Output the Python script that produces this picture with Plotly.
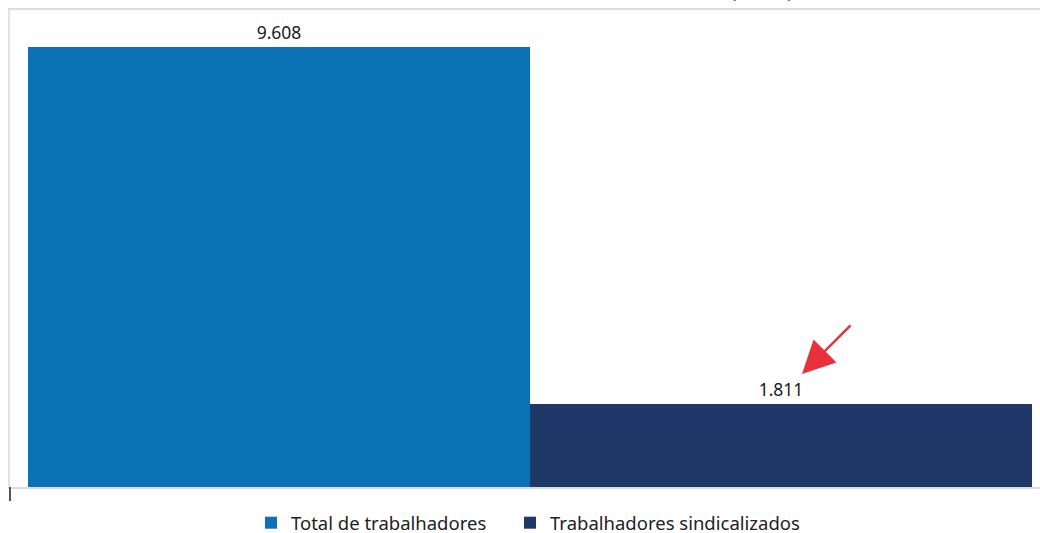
import plotly.graph_objects as go

# Trabalhadores (mil)
categorias = ["Total de trabalhadores", "Trabalhadores sindicalizados"]
valores = [9608, 1811]
cores = ["#0b72b5", "#1f3868"]
legendas = ["legend", "legend2"]

fig = go.Figure()
for nome, valor, cor, leg in zip(categorias, valores, cores, legendas):
    fig.add_trace(go.Bar(
        x=[nome], y=[valor], name=nome, legend=leg,
        marker=dict(color=cor, line=dict(width=0)),
        width=1,
        texttemplate="%{y:,.0f}", textposition="outside",
        textfont=dict(family="Noto Sans", size=17.5, color="#1a1a1a"),
        cliponaxis=False,
    ))

legend_style = dict(
    orientation="h", y=-0.036, yanchor="top", xanchor="left",
    font=dict(family="Noto Sans", size=18.5, color="#222222"),
    itemwidth=30, bgcolor="rgba(0,0,0,0)",
)

fig.update_layout(
    width=1040, height=533,
    margin=dict(l=10, r=0, t=10, b=46, autoexpand=False),
    paper_bgcolor="white", plot_bgcolor="white",
    barmode="overlay", bargap=0,
    separators=",.",
    showlegend=True,
    legend=dict(legend_style, x=(251 - 10) / 1030),
    legend2=dict(legend_style, x=(510 - 10) / 1030),
    xaxis=dict(
        type="category", range=[-0.5 - 18 / 502, 1.5 + 8 / 502],
        showticklabels=False, showgrid=False, zeroline=False,
        showline=True, mirror=True, linecolor="#dcdcdc", linewidth=2,
        fixedrange=True,
    ),
    yaxis=dict(
        range=[0, 10415], showticklabels=False, showgrid=False, zeroline=False,
        showline=True, mirror=True, linecolor="#e2e2e2", linewidth=1.5,
        fixedrange=True,
    ),
    shapes=[dict(
        type="line", xref="paper", yref="paper",
        x0=0, x1=0, y0=0, y1=-14 / 477,
        line=dict(color="#555555", width=2),
    )],
    annotations=[
        dict(
            text="(2019)", xref="paper", yref="paper",
            x=(762 - 10) / 1030, y=1 + 4 / 477, xanchor="center", yanchor="bottom",
            showarrow=False, font=dict(family="Noto Sans", size=22, color="#666666"),
        ),
        dict(
            x="Trabalhadores sindicalizados", y=2470, xref="x", yref="y",
            xshift=(802 - 781), text="", showarrow=True,
            ax=50, ay=-50, arrowcolor="#e8323b", arrowwidth=2.5,
            arrowhead=2, arrowsize=2.6,
        ),
    ],
)

fig.write_html("out.html")
